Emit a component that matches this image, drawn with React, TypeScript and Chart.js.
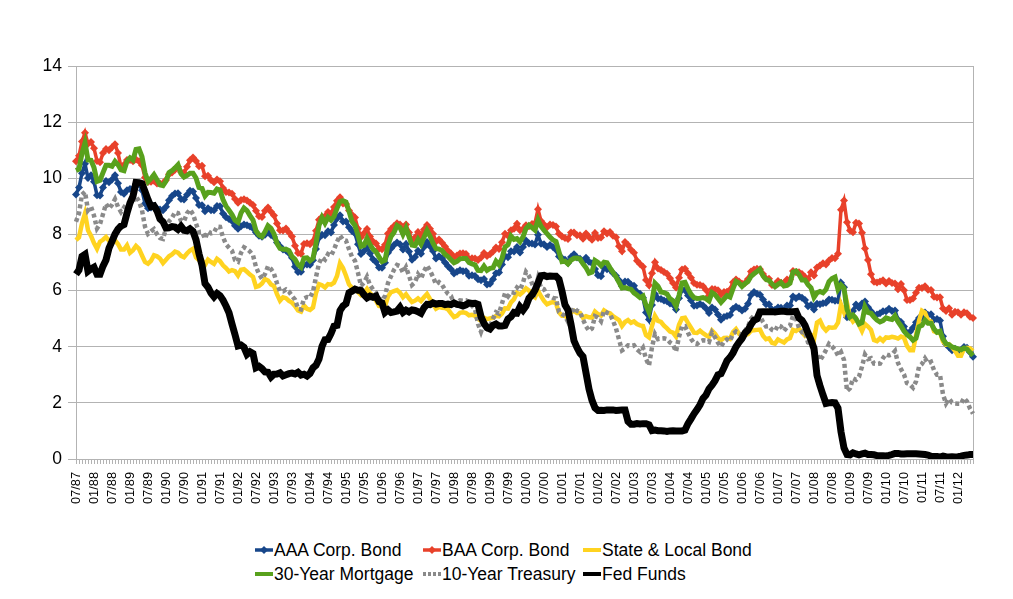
import React, { useEffect, useRef } from "react";
import { Chart, registerables } from "chart.js";

Chart.register(...registerables);

// ---------- categories (monthly, 07/87 .. 06/12) ----------
const START_YEAR = 1987;
const START_MONTH = 7;
const N_MONTHS = 300;
const categories: string[] = [];
for (let i = 0; i < N_MONTHS; i++) {
  const k = START_MONTH - 1 + i;
  const m = (k % 12) + 1;
  const y = START_YEAR + Math.floor(k / 12);
  categories.push(`${String(m).padStart(2, "0")}/${String(y % 100).padStart(2, "0")}`);
}
const LABEL_EVERY = 6;

// ---------- y axis ----------
const Y_MIN = 0;
const Y_MAX = 14;
const Y_STEP = 2;

// ---------- series (percent, monthly) ----------
const aaaCorpBond = [
  9.42, 9.67, 10.18, 10.52, 10.01, 10.11,
  9.88, 9.40, 9.39, 9.67, 9.90, 9.86, 9.96, 10.11, 9.82, 9.51, 9.45, 9.57,
  9.62, 9.64, 9.80, 9.79, 9.57, 9.10, 8.93, 8.96, 9.01, 8.92, 8.89, 8.86,
  8.99, 9.22, 9.37, 9.46, 9.47, 9.26, 9.24, 9.41, 9.56, 9.53, 9.30, 9.05,
  9.04, 8.83, 8.93, 8.86, 8.86, 9.01, 9.00, 8.75, 8.61, 8.55, 8.48, 8.31,
  8.20, 8.29, 8.35, 8.33, 8.28, 8.22, 8.07, 7.95, 7.92, 7.99, 8.10, 7.98,
  7.91, 7.71, 7.58, 7.46, 7.43, 7.33, 7.17, 6.85, 6.66, 6.67, 6.93, 6.93,
  6.92, 7.08, 7.48, 7.88, 7.99, 7.97, 8.11, 8.07, 8.34, 8.57, 8.68, 8.46,
  8.46, 8.26, 8.12, 8.03, 7.65, 7.30, 7.41, 7.57, 7.32, 7.12, 7.02, 6.82,
  6.81, 6.99, 7.35, 7.50, 7.62, 7.71, 7.65, 7.46, 7.66, 7.39, 7.10, 7.20,
  7.42, 7.31, 7.55, 7.73, 7.58, 7.41, 7.14, 7.22, 7.15, 7.00, 6.87, 6.76,
  6.61, 6.67, 6.72, 6.69, 6.69, 6.53, 6.55, 6.52, 6.40, 6.37, 6.41, 6.22,
  6.24, 6.40, 6.62, 6.64, 6.93, 7.23, 7.19, 7.40, 7.39, 7.55, 7.36, 7.55,
  7.78, 7.68, 7.68, 7.64, 7.99, 7.67, 7.65, 7.55, 7.62, 7.55, 7.45, 7.21,
  7.15, 7.10, 6.98, 7.20, 7.29, 7.18, 7.13, 7.02, 7.17, 7.03, 6.97, 6.77,
  6.55, 6.51, 6.81, 6.76, 6.75, 6.63, 6.53, 6.37, 6.15, 6.32, 6.31, 6.21,
  6.17, 5.95, 5.89, 5.74, 5.22, 4.97, 5.49, 5.88, 5.72, 5.70, 5.65, 5.62,
  5.54, 5.50, 5.33, 5.73, 6.04, 6.01, 5.82, 5.65, 5.46, 5.47, 5.52, 5.47,
  5.36, 5.20, 5.40, 5.33, 5.15, 4.96, 5.06, 5.09, 5.13, 5.35, 5.42, 5.37,
  5.29, 5.35, 5.53, 5.84, 5.95, 5.89, 5.85, 5.68, 5.51, 5.51, 5.33, 5.32,
  5.40, 5.39, 5.30, 5.47, 5.47, 5.79, 5.73, 5.79, 5.74, 5.66, 5.44, 5.49,
  5.33, 5.53, 5.51, 5.55, 5.57, 5.68, 5.67, 5.64, 5.65, 6.28, 6.12, 5.05,
  5.05, 5.27, 5.50, 5.39, 5.54, 5.61, 5.41, 5.26, 5.13, 5.15, 5.19, 5.26,
  5.26, 5.35, 5.27, 5.29, 4.96, 4.88, 4.72, 4.49, 4.53, 4.68, 4.87, 5.02,
  5.04, 5.22, 5.13, 5.16, 4.96, 4.99, 4.93, 4.37, 4.09, 3.98, 3.87, 3.93,
  3.85, 3.85, 3.99, 3.96, 3.80, 3.64,
];

const baaCorpBond = [
  10.61, 10.80, 11.31, 11.62, 11.23, 11.29,
  11.07, 10.62, 10.57, 10.90, 11.04, 11.00, 11.11, 11.21, 10.90, 10.41, 10.48, 10.65,
  10.65, 10.61, 10.67, 10.61, 10.46, 10.03, 9.87, 9.88, 9.91, 9.81, 9.81, 9.82,
  9.94, 10.14, 10.21, 10.30, 10.41, 10.22, 10.20, 10.41, 10.64, 10.74, 10.62, 10.43,
  10.45, 10.07, 10.09, 9.94, 9.86, 9.96, 9.89, 9.65, 9.51, 9.49, 9.45, 9.26,
  9.13, 9.23, 9.25, 9.21, 9.13, 9.05, 8.84, 8.65, 8.62, 8.84, 8.96, 8.81,
  8.67, 8.39, 8.15, 8.14, 8.21, 8.07, 7.93, 7.60, 7.34, 7.31, 7.66, 7.69,
  7.65, 7.76, 8.13, 8.52, 8.62, 8.65, 8.80, 8.74, 8.98, 9.20, 9.32, 9.10,
  9.08, 8.85, 8.70, 8.60, 8.20, 7.90, 8.04, 8.19, 7.93, 7.75, 7.68, 7.49,
  7.47, 7.63, 8.03, 8.19, 8.30, 8.40, 8.35, 8.18, 8.35, 8.07, 7.79, 7.89,
  8.09, 7.94, 8.18, 8.34, 8.20, 8.02, 7.75, 7.82, 7.70, 7.57, 7.42, 7.32,
  7.19, 7.25, 7.32, 7.33, 7.30, 7.13, 7.15, 7.14, 7.09, 7.18, 7.34, 7.23,
  7.29, 7.39, 7.53, 7.48, 7.72, 8.02, 7.95, 8.15, 8.20, 8.38, 8.15, 8.19,
  8.33, 8.29, 8.37, 8.40, 8.90, 8.48, 8.35, 8.26, 8.35, 8.34, 8.28, 8.02,
  7.93, 7.87, 7.84, 8.07, 8.07, 7.97, 7.97, 7.85, 8.03, 7.91, 7.81, 8.05,
  7.87, 7.89, 8.11, 8.03, 8.09, 7.95, 7.90, 7.58, 7.40, 7.73, 7.62, 7.45,
  7.35, 7.06, 6.95, 6.85, 6.38, 6.19, 6.62, 7.01, 6.79, 6.73, 6.66, 6.60,
  6.44, 6.27, 6.11, 6.46, 6.75, 6.78, 6.62, 6.46, 6.27, 6.21, 6.20, 6.15,
  6.02, 5.82, 6.06, 6.05, 6.01, 5.86, 5.95, 5.96, 6.03, 6.30, 6.39, 6.32,
  6.24, 6.27, 6.41, 6.68, 6.75, 6.78, 6.76, 6.59, 6.43, 6.42, 6.20, 6.22,
  6.34, 6.28, 6.27, 6.39, 6.39, 6.70, 6.65, 6.65, 6.59, 6.48, 6.40, 6.65,
  6.54, 6.82, 6.89, 6.97, 6.93, 7.07, 7.16, 7.15, 7.31, 8.88, 9.21, 8.43,
  8.14, 8.08, 8.42, 8.39, 8.06, 7.50, 7.09, 6.58, 6.31, 6.29, 6.32, 6.37,
  6.25, 6.34, 6.27, 6.25, 6.05, 6.23, 6.01, 5.66, 5.66, 5.72, 5.92, 6.10,
  6.09, 6.15, 6.03, 6.02, 5.78, 5.75, 5.76, 5.36, 5.27, 5.37, 5.14, 5.25,
  5.23, 5.14, 5.23, 5.19, 5.07, 5.02,
];

const stateLocalBond = [
  7.80, 7.90, 8.40, 8.75, 8.15, 7.95,
  7.69, 7.49, 7.74, 7.81, 7.91, 7.78, 7.76, 7.79, 7.66, 7.46, 7.46, 7.61,
  7.35, 7.44, 7.59, 7.49, 7.25, 7.02, 6.96, 7.06, 7.26, 7.22, 7.14, 6.98,
  7.10, 7.22, 7.29, 7.39, 7.35, 7.24, 7.19, 7.32, 7.43, 7.49, 7.18, 7.09,
  7.08, 6.91, 7.10, 7.02, 6.95, 7.13, 7.05, 6.90, 6.80, 6.68, 6.73, 6.69,
  6.54, 6.74, 6.76, 6.67, 6.57, 6.49, 6.13, 6.16, 6.25, 6.41, 6.36, 6.22,
  6.16, 5.87, 5.64, 5.76, 5.73, 5.63, 5.57, 5.45, 5.29, 5.25, 5.47, 5.35,
  5.31, 5.40, 5.91, 6.23, 6.19, 6.11, 6.23, 6.21, 6.28, 6.52, 6.97, 6.80,
  6.53, 6.22, 6.10, 6.02, 5.95, 5.84, 5.92, 6.06, 5.91, 5.80, 5.64, 5.45,
  5.43, 5.43, 5.79, 5.94, 5.98, 6.02, 5.92, 5.76, 5.87, 5.72, 5.59, 5.64,
  5.72, 5.63, 5.76, 5.88, 5.70, 5.53, 5.35, 5.41, 5.39, 5.38, 5.33, 5.19,
  5.06, 5.10, 5.21, 5.23, 5.20, 5.12, 5.14, 5.10, 4.99, 4.93, 5.03, 4.98,
  5.01, 5.03, 5.10, 5.08, 5.18, 5.37, 5.36, 5.58, 5.69, 5.92, 5.86, 5.95,
  6.08, 6.00, 5.83, 5.76, 6.00, 5.80, 5.63, 5.51, 5.56, 5.59, 5.54, 5.22,
  5.10, 5.10, 5.01, 5.23, 5.28, 5.20, 5.20, 5.03, 5.09, 5.05, 5.04, 5.25,
  5.16, 5.11, 5.29, 5.22, 5.19, 5.09, 5.02, 4.95, 4.74, 4.88, 4.95, 4.85,
  4.90, 4.81, 4.76, 4.74, 4.41, 4.33, 4.74, 5.10, 4.92, 4.88, 4.75, 4.65,
  4.54, 4.50, 4.36, 4.78, 5.01, 5.03, 4.85, 4.68, 4.50, 4.49, 4.57, 4.48,
  4.41, 4.35, 4.57, 4.46, 4.31, 4.23, 4.31, 4.32, 4.28, 4.52, 4.63, 4.46,
  4.37, 4.41, 4.45, 4.57, 4.59, 4.60, 4.61, 4.39, 4.27, 4.30, 4.14, 4.11,
  4.26, 4.20, 4.15, 4.26, 4.31, 4.60, 4.56, 4.64, 4.51, 4.39, 4.46, 4.42,
  4.27, 4.86, 4.93, 4.70, 4.58, 4.69, 4.68, 4.69, 4.86, 5.50, 5.23, 5.56,
  5.07, 4.90, 5.00, 4.78, 4.56, 4.81, 4.72, 4.60, 4.24, 4.20, 4.30, 4.21,
  4.33, 4.32, 4.35, 4.33, 4.29, 4.36, 4.32, 4.03, 3.87, 3.87, 4.40, 4.92,
  5.28, 5.21, 4.94, 4.90, 4.55, 4.51, 4.51, 4.18, 4.07, 4.09, 3.98, 3.85,
  3.68, 3.68, 3.93, 3.96, 3.94, 3.85,
];

const mortgage30Year = [
  10.28, 10.33, 10.89, 11.26, 10.65, 10.64,
  10.38, 9.89, 9.93, 10.20, 10.46, 10.46, 10.43, 10.60, 10.48, 10.30, 10.27, 10.61,
  10.73, 10.65, 11.03, 11.05, 10.77, 10.20, 9.88, 9.99, 10.13, 9.95, 9.77, 9.74,
  9.90, 10.20, 10.27, 10.37, 10.48, 10.16, 10.04, 10.10, 10.18, 10.18, 10.01, 9.67,
  9.64, 9.37, 9.50, 9.49, 9.47, 9.62, 9.58, 9.24, 9.01, 8.86, 8.71, 8.50,
  8.43, 8.76, 8.94, 8.85, 8.67, 8.51, 8.13, 7.98, 7.92, 8.09, 8.31, 8.22,
  8.02, 7.68, 7.50, 7.47, 7.47, 7.42, 7.21, 7.11, 6.92, 6.83, 7.16, 7.17,
  7.06, 7.15, 7.68, 8.32, 8.60, 8.40, 8.61, 8.51, 8.64, 8.93, 9.17, 9.20,
  9.15, 8.83, 8.46, 8.32, 7.96, 7.57, 7.61, 7.86, 7.64, 7.48, 7.38, 7.20,
  7.03, 7.08, 7.62, 7.93, 8.07, 8.32, 8.25, 8.00, 8.23, 7.92, 7.62, 7.60,
  7.82, 7.65, 7.90, 8.14, 7.94, 7.69, 7.50, 7.48, 7.43, 7.29, 7.21, 7.10,
  6.99, 7.04, 7.13, 7.14, 7.14, 7.00, 6.95, 6.92, 6.72, 6.71, 6.87, 6.72,
  6.79, 6.81, 7.04, 6.92, 7.15, 7.55, 7.63, 7.94, 7.82, 7.85, 7.74, 7.91,
  8.21, 8.33, 8.24, 8.15, 8.52, 8.29, 8.15, 8.03, 7.91, 7.80, 7.75, 7.38,
  7.03, 7.05, 6.95, 7.08, 7.15, 7.16, 7.13, 6.95, 6.82, 6.62, 6.66, 7.07,
  7.00, 6.89, 7.01, 6.99, 6.81, 6.65, 6.49, 6.29, 6.09, 6.11, 6.07, 6.05,
  5.92, 5.84, 5.75, 5.81, 5.48, 5.23, 5.63, 6.26, 6.15, 5.95, 5.93, 5.88,
  5.71, 5.64, 5.45, 5.83, 6.27, 6.29, 6.06, 5.87, 5.75, 5.72, 5.73, 5.75,
  5.71, 5.63, 5.93, 5.86, 5.72, 5.58, 5.70, 5.82, 5.77, 6.07, 6.33, 6.27,
  6.15, 6.25, 6.32, 6.51, 6.60, 6.68, 6.76, 6.52, 6.40, 6.36, 6.24, 6.14,
  6.22, 6.29, 6.16, 6.18, 6.26, 6.66, 6.70, 6.57, 6.38, 6.38, 6.21, 6.10,
  5.76, 5.92, 5.97, 5.92, 6.04, 6.32, 6.43, 6.48, 6.04, 6.20, 6.09, 5.33,
  5.06, 5.13, 5.00, 4.81, 4.86, 5.42, 5.22, 5.19, 5.06, 4.95, 4.88, 4.93,
  5.03, 4.99, 4.97, 5.10, 4.89, 4.74, 4.56, 4.43, 4.35, 4.23, 4.30, 4.71,
  4.76, 4.95, 4.84, 4.84, 4.64, 4.51, 4.55, 4.27, 4.11, 4.07, 3.99, 3.96,
  3.92, 3.89, 3.95, 3.91, 3.80, 3.68,
];

const treasury10Year = [
  8.45, 8.76, 9.42, 9.52, 8.86, 8.99,
  8.67, 8.21, 8.37, 8.72, 9.09, 8.92, 9.06, 9.26, 8.98, 8.80, 8.96, 9.11,
  9.09, 9.17, 9.36, 9.18, 8.86, 8.28, 8.02, 8.11, 8.19, 8.01, 7.87, 7.84,
  8.21, 8.47, 8.59, 8.79, 8.76, 8.48, 8.47, 8.75, 8.89, 8.72, 8.39, 8.08,
  8.09, 7.85, 8.11, 8.04, 8.07, 8.28, 8.27, 7.90, 7.65, 7.53, 7.42, 7.09,
  7.03, 7.34, 7.54, 7.48, 7.39, 7.26, 6.84, 6.59, 6.42, 6.59, 6.87, 6.77,
  6.60, 6.26, 5.98, 5.97, 6.04, 5.96, 5.81, 5.68, 5.36, 5.33, 5.72, 5.77,
  5.75, 5.97, 6.48, 6.97, 7.18, 7.10, 7.30, 7.24, 7.46, 7.74, 7.96, 7.81,
  7.78, 7.47, 7.20, 7.06, 6.63, 6.17, 6.28, 6.49, 6.20, 6.04, 5.93, 5.71,
  5.65, 5.81, 6.27, 6.51, 6.74, 6.91, 6.87, 6.64, 6.83, 6.53, 6.20, 6.30,
  6.58, 6.42, 6.69, 6.89, 6.71, 6.49, 6.22, 6.30, 6.21, 6.03, 5.88, 5.81,
  5.54, 5.57, 5.65, 5.64, 5.65, 5.50, 5.46, 5.34, 4.81, 4.53, 4.83, 4.65,
  4.72, 5.00, 5.23, 5.18, 5.54, 5.90, 5.79, 5.94, 5.92, 6.11, 6.03, 6.28,
  6.66, 6.52, 6.26, 5.99, 6.44, 6.10, 6.05, 5.83, 5.80, 5.74, 5.72, 5.24,
  5.16, 5.10, 4.89, 5.14, 5.39, 5.28, 5.24, 4.97, 4.73, 4.57, 4.65, 5.09,
  5.04, 4.91, 5.28, 5.21, 5.16, 4.93, 4.65, 4.26, 3.87, 3.94, 4.05, 4.03,
  4.05, 3.90, 3.81, 3.96, 3.57, 3.33, 3.98, 4.45, 4.27, 4.29, 4.30, 4.27,
  4.15, 4.08, 3.83, 4.35, 4.72, 4.73, 4.50, 4.28, 4.13, 4.10, 4.19, 4.23,
  4.22, 4.17, 4.50, 4.34, 4.14, 4.00, 4.18, 4.26, 4.20, 4.46, 4.54, 4.47,
  4.42, 4.57, 4.72, 4.99, 5.11, 5.11, 5.09, 4.88, 4.72, 4.73, 4.60, 4.56,
  4.76, 4.72, 4.56, 4.69, 4.75, 5.10, 5.00, 4.67, 4.52, 4.53, 4.15, 4.10,
  3.74, 3.74, 3.51, 3.68, 3.88, 4.10, 4.01, 3.89, 3.69, 3.81, 3.53, 2.42,
  2.52, 2.87, 2.82, 2.93, 3.29, 3.72, 3.56, 3.59, 3.40, 3.39, 3.40, 3.59,
  3.73, 3.69, 3.73, 3.85, 3.42, 3.20, 3.01, 2.70, 2.65, 2.54, 2.76, 3.29,
  3.39, 3.58, 3.41, 3.46, 3.17, 3.00, 3.00, 2.30, 1.98, 2.15, 2.01, 1.98,
  1.97, 1.97, 2.17, 2.05, 1.80, 1.62,
];

const fedFunds = [
  6.58, 6.73, 7.22, 7.29, 6.69, 6.77,
  6.83, 6.58, 6.58, 6.87, 7.09, 7.51, 7.75, 8.01, 8.19, 8.30, 8.35, 8.76,
  9.12, 9.36, 9.85, 9.84, 9.81, 9.53, 9.24, 8.99, 9.02, 8.84, 8.55, 8.45,
  8.23, 8.24, 8.28, 8.26, 8.18, 8.29, 8.15, 8.13, 8.20, 8.11, 7.81, 7.31,
  6.91, 6.25, 6.12, 5.91, 5.78, 5.90, 5.82, 5.66, 5.45, 5.21, 4.81, 4.43,
  4.03, 4.06, 3.98, 3.73, 3.82, 3.76, 3.25, 3.30, 3.22, 3.10, 3.09, 2.92,
  3.02, 3.03, 3.07, 2.96, 3.00, 3.04, 3.06, 3.03, 3.09, 2.99, 3.02, 2.96,
  3.05, 3.25, 3.34, 3.56, 4.01, 4.25, 4.26, 4.47, 4.73, 4.76, 5.29, 5.45,
  5.53, 5.92, 5.98, 6.05, 6.01, 6.00, 5.85, 5.74, 5.80, 5.76, 5.80, 5.60,
  5.56, 5.22, 5.31, 5.22, 5.24, 5.27, 5.40, 5.22, 5.30, 5.24, 5.31, 5.29,
  5.25, 5.19, 5.39, 5.51, 5.50, 5.56, 5.52, 5.54, 5.54, 5.50, 5.52, 5.50,
  5.56, 5.51, 5.49, 5.45, 5.49, 5.56, 5.54, 5.55, 5.51, 5.07, 4.83, 4.68,
  4.63, 4.76, 4.81, 4.74, 4.74, 4.76, 4.99, 5.07, 5.22, 5.20, 5.42, 5.30,
  5.45, 5.73, 5.85, 6.02, 6.27, 6.53, 6.54, 6.50, 6.52, 6.51, 6.51, 6.40,
  5.98, 5.49, 5.31, 4.80, 4.21, 3.97, 3.77, 3.65, 3.07, 2.49, 2.09, 1.82,
  1.73, 1.74, 1.73, 1.75, 1.75, 1.75, 1.73, 1.74, 1.75, 1.75, 1.34, 1.24,
  1.24, 1.26, 1.25, 1.26, 1.26, 1.22, 1.01, 1.03, 1.01, 1.01, 1.00, 0.98,
  1.00, 1.01, 1.00, 1.00, 1.00, 1.03, 1.26, 1.43, 1.61, 1.76, 1.93, 2.16,
  2.28, 2.50, 2.63, 2.79, 3.00, 3.04, 3.26, 3.50, 3.62, 3.78, 4.00, 4.16,
  4.29, 4.49, 4.59, 4.79, 4.94, 4.99, 5.24, 5.25, 5.25, 5.25, 5.25, 5.24,
  5.25, 5.26, 5.26, 5.25, 5.25, 5.25, 5.26, 5.02, 4.94, 4.76, 4.49, 4.24,
  3.94, 2.98, 2.61, 2.28, 1.98, 2.00, 2.01, 2.00, 1.81, 0.97, 0.39, 0.16,
  0.15, 0.22, 0.18, 0.15, 0.18, 0.21, 0.16, 0.16, 0.15, 0.12, 0.12, 0.12,
  0.11, 0.13, 0.16, 0.20, 0.20, 0.18, 0.18, 0.19, 0.19, 0.19, 0.19, 0.18,
  0.17, 0.16, 0.14, 0.10, 0.09, 0.09, 0.07, 0.10, 0.08, 0.07, 0.08, 0.07,
  0.08, 0.10, 0.13, 0.14, 0.16, 0.16,
];

const seriesNames = [
  "AAA Corp. Bond",
  "BAA Corp. Bond",
  "State & Local Bond",
  "30-Year Mortgage",
  "10-Year Treasury",
  "Fed Funds",
];
const seriesValues = [aaaCorpBond, baaCorpBond, stateLocalBond, mortgage30Year, treasury10Year, fedFunds];
const seriesColors = ["#17468a", "#e8412a", "#ffd320", "#58a11c", "#8a8a8a", "#000000"];
const seriesWidths = [3.5, 3.5, 4.5, 5, 4.5, 7];
const seriesMarkers = [true, true, false, false, false, false];
const seriesDashed = [false, false, false, false, true, false];

const FONT = "'Liberation Sans', Arial, Helvetica, sans-serif";
const GRID = "#b3b3b3";

function Sample({ color, width, marker, dashed }: { color: string; width: number; marker: boolean; dashed: boolean }) {
  return (
    <svg width={18} height={20} style={{ display: "block", flex: "0 0 auto" }}>
      <line
        x1={0}
        y1={10}
        x2={18}
        y2={10}
        stroke={color}
        strokeWidth={dashed ? 4 : Math.min(width, 4)}
        strokeDasharray={dashed ? "3 2" : undefined}
      />
      {marker ? <polygon points="9,6 13,10 9,14 5,10" fill={color} /> : null}
    </svg>
  );
}

export default function App() {
  const canvasRef = useRef<HTMLCanvasElement | null>(null);

  useEffect(() => {
    if (!canvasRef.current) return;
    const last = categories.length - 1;
    const chart = new Chart(canvasRef.current, {
      type: "line",
      data: {
        labels: categories,
        datasets: seriesNames.map((name, i) => ({
          label: name,
          data: seriesValues[i],
          borderColor: seriesColors[i],
          backgroundColor: seriesColors[i],
          borderWidth: seriesWidths[i],
          borderDash: seriesDashed[i] ? [4, 3] : [],
          pointRadius: seriesMarkers[i] ? 4 : 0,
          pointStyle: "rectRot",
          pointBorderWidth: 0,
          pointBackgroundColor: seriesColors[i],
          tension: 0,
          fill: false,
          order: seriesNames.length - i,
        })),
      },
      options: {
        animation: false,
        responsive: true,
        maintainAspectRatio: false,
        layout: { padding: { top: 58, right: 32, left: 0, bottom: 0 } },
        plugins: {
          legend: { display: false },
          tooltip: { enabled: false },
        },
        scales: {
          x: {
            type: "category",
            offset: false,
            grid: {
              display: true,
              drawOnChartArea: true,
              drawTicks: true,
              tickLength: 5,
              tickColor: GRID,
              color: (c: any) => (c.index === 0 || c.index === last ? GRID : "rgba(0,0,0,0)"),
            },
            border: { display: true, color: GRID },
            ticks: {
              autoSkip: false,
              minRotation: 90,
              maxRotation: 90,
              padding: 8,
              color: "#000",
              font: { family: FONT, size: 12.8 },
              callback: (_v: any, i: number) => (i % LABEL_EVERY === 0 ? categories[i] : ""),
            },
            afterFit: (s: any) => {
              s.height = 76;
            },
          },
          y: {
            min: Y_MIN,
            max: Y_MAX,
            grid: { color: GRID, tickLength: 8, tickColor: GRID },
            border: { display: true, color: GRID },
            ticks: {
              stepSize: Y_STEP,
              padding: 6,
              color: "#000",
              font: { family: FONT, size: 17.5 },
            },
            afterFit: (s: any) => {
              s.width = 68;
            },
          },
        },
      },
    });
    return () => chart.destroy();
  }, []);

  const colX = [247, 415, 575];
  const rowY = [532, 556];

  return (
    <div style={{ position: "relative", width: 997, height: 583, fontFamily: FONT }}>
      <div style={{ position: "absolute", left: 0, top: 0, width: 997, height: 527 }}>
        <canvas ref={canvasRef} />
      </div>
      {seriesNames.map((name, i) => (
        <div
          key={name}
          style={{
            position: "absolute",
            left: colX[i % 3],
            top: rowY[Math.floor(i / 3)],
            display: "flex",
            alignItems: "center",
            height: 20,
            fontSize: 17.5,
            lineHeight: "20px",
            color: "#000",
            whiteSpace: "nowrap",
          }}
        >
          <Sample color={seriesColors[i]} width={seriesWidths[i]} marker={seriesMarkers[i]} dashed={seriesDashed[i]} />
          <span style={{ marginLeft: 1 }}>{name}</span>
        </div>
      ))}
    </div>
  );
}
